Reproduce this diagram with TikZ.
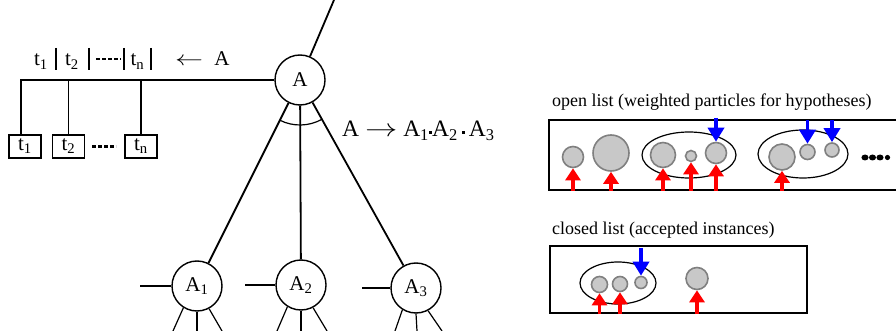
\documentclass[tikz,border=0pt]{standalone}
\usepackage{fontspec}
\setmainfont{Liberation Serif}
\usetikzlibrary{arrows.meta,shapes.geometric}
\definecolor{pfill}{RGB}{200,200,200}
\definecolor{pline}{RGB}{128,128,128}
\begin{document}
\begin{tikzpicture}[x=1pt,y=-1pt,
  big/.style={font=\fontsize{21}{24}\selectfont, inner sep=0pt, anchor=base},
  lbl/.style={font=\fontsize{18}{21}\selectfont, inner sep=0pt, anchor=base west},
  tnode/.style={circle, draw, line width=1.4pt, minimum size=50pt, inner sep=0pt, font=\fontsize{21}{24}\selectfont},
  tbox/.style={draw, line width=1.1pt, minimum width=32pt, minimum height=23pt, inner sep=0pt, font=\fontsize{21}{24}\selectfont},
  edge/.style={line width=1.8pt},
  stub/.style={line width=1.2pt},
  barline/.style={line width=1.3pt},
  dashline/.style={line width=2.5pt, dash pattern=on 4pt off 2pt},
  listbox/.style={draw, line width=2pt, inner sep=0pt},
  grp/.style={ellipse, draw, line width=1.2pt, inner sep=0pt},
  part/.style={circle, draw=pline, fill=pfill, line width=1.6pt, inner sep=0pt, minimum size=#1},
  redarr/.style={draw=red, line width=3.5pt, -{Triangle[width=15pt,length=12pt]}},
  bluearr/.style={draw=blue, line width=3.5pt, -{Triangle[width=16pt,length=14pt]}}
]
\useasboundingbox (0,0) rectangle (896,331);

% ---------- tree ----------
\node[tnode] (A) at (300,80) {A};
\node[tnode] (A1) at (197,286) {A\textsubscript{1}};
\node[tnode] (A2) at (301,285) {A\textsubscript{2}};
\node[tnode] (A3) at (416,288) {A\textsubscript{3}};

\coordinate (top) at (334,0);
\draw[edge] (A) -- (top);
\draw[edge] (A) -- (A1);
\draw[edge] (A) -- (A2);
\draw[edge] (A) -- (A3);
\draw[stub] ([shift={(116.6:45)}]A.center) arc[start angle=116.6, end angle=60.9, radius=45];

% terminal boxes
\node[tbox] (b1) at (25,146.5) {t\textsubscript{1}};
\node[tbox] (b2) at (68.5,146.5) {t\textsubscript{2}};
\node[tbox] (bn) at (141,146.5) {t\textsubscript{n}};
\draw[dashline] (92,146.5) -- (116,146.5);

\coordinate (h1) at (21,80);
\draw[edge] (A.west) -- (h1) -- (h1 |- b1.north);
\draw[edge] (b2.north) -- (b2.north |- A.west);
\draw[edge] (bn.north) -- (bn.north |- A.west);

% top label
\node[big] (tt1) at (41,66) {t\textsubscript{1}};
\node[big] (tt2) at (72,66) {t\textsubscript{2}};
\node[big] (ttn) at (137.5,66) {t\textsubscript{n}};
\draw[barline] (56,48) -- (56,70);
\draw[barline] (89,48) -- (89,70);
\draw[barline] (124,48) -- (124,70);
\draw[barline] (151,48) -- (151,70);
\draw[dashline] (96,59) -- (121,59);
\node[big] (larr) at (189,66) {\scalebox{1.35}[1]{$\leftarrow$}};
\node[big] (lA) at (222,66) {A};

% rule label
\node[anchor=base west, inner sep=0pt, font=\fontsize{23.5}{26}\selectfont] (rule) at (342,137) {A \scalebox{1.3}[1]{$\rightarrow$} A\textsubscript{1}\raisebox{0.28ex}{\rule{3.2pt}{3.2pt}}A\textsubscript{2}\,\raisebox{0.28ex}{\rule{3.2pt}{3.2pt}}\,A\textsubscript{3}};

% child stubs
\coordinate (l1) at (140,286);
\coordinate (l2) at (245,285);
\coordinate (l3) at (362,288);
\draw[stub] (l1) -- (A1.west);
\draw[stub] (l2) -- (A2.west);
\draw[stub] (l3) -- (A3.west);

\coordinate (d11) at (173,331); \coordinate (d12) at (197,331); \coordinate (d13) at (222,331);
\coordinate (d21) at (277,331); \coordinate (d22) at (301,331); \coordinate (d23) at (327,331);
\coordinate (d31) at (395,331); \coordinate (d32) at (417,331); \coordinate (d33) at (442,331);
\draw[stub] (A1.238) -- (d11); \draw[stub] (A1.south) -- (d12); \draw[stub] (A1.298) -- (d13);
\draw[stub] (A2.238) -- (d21); \draw[stub] (A2.south) -- (d22); \draw[stub] (A2.298) -- (d23);
\draw[stub] (A3.238) -- (d31); \draw[stub] (A3.south) -- (d32); \draw[stub] (A3.298) -- (d33);

% ---------- open list ----------
\node[lbl] (otitle) at (552,107) {open list (weighted particles for hypotheses)};
\node[listbox, minimum width=352pt, minimum height=70pt] (ob) at (725,155) {};
\node[grp, minimum width=94pt, minimum height=46pt] (g1) at (689,155) {};
\node[grp, minimum width=90pt, minimum height=48pt] (g2) at (803,154) {};
\node[part=21pt] (p1) at (573,157) {};
\node[part=36pt] (p2) at (611,153) {};
\node[part=25pt] (p3) at (663,155) {};
\node[part=11pt] (p4) at (691,156) {};
\node[part=21pt] (p5) at (716,153) {};
\node[part=26pt] (p6) at (782,157) {};
\node[part=15pt] (p7) at (807.5,152) {};
\node[part=14pt] (p8) at (832,150) {};
\foreach \p in {p1,p2,p3,p4,p5,p6}
  \draw[redarr] (\p.south |- ob.south) -- (\p.south);
\coordinate (bt5) at (716,118);
\coordinate (bt7) at (807.5,120);
\coordinate (bt8) at (832,120);
\draw[bluearr] (bt5) -- (p5.north);
\draw[bluearr] (bt7) -- (p7.north);
\draw[bluearr] (bt8) -- (p8.north);
\foreach \x in {865,872.5,880}
  \fill (\x,157.5) ellipse[x radius=3.6, y radius=3];
\fill (887.5,157.5) ellipse[x radius=2.6, y radius=2.6];

% ---------- closed list ----------
\node[lbl] (ctitle) at (552,234) {closed list (accepted instances)};
\node[listbox, minimum width=257pt, minimum height=67pt] (cb) at (678.5,279.5) {};
\node[grp, minimum width=76pt, minimum height=42pt] (g3) at (618,283) {};
\node[part=16pt] (q1) at (599.5,284.5) {};
\node[part=15pt] (q2) at (620,284) {};
\node[part=12pt] (q3) at (641,282.5) {};
\node[part=22pt] (q4) at (697,278.5) {};
\foreach \p in {q1,q2,q4}
  \draw[redarr] (\p.south |- cb.south) -- (\p.south);
\coordinate (bq3) at (641,248);
\draw[bluearr] (bq3) -- (q3.north);
\end{tikzpicture}
\end{document}
